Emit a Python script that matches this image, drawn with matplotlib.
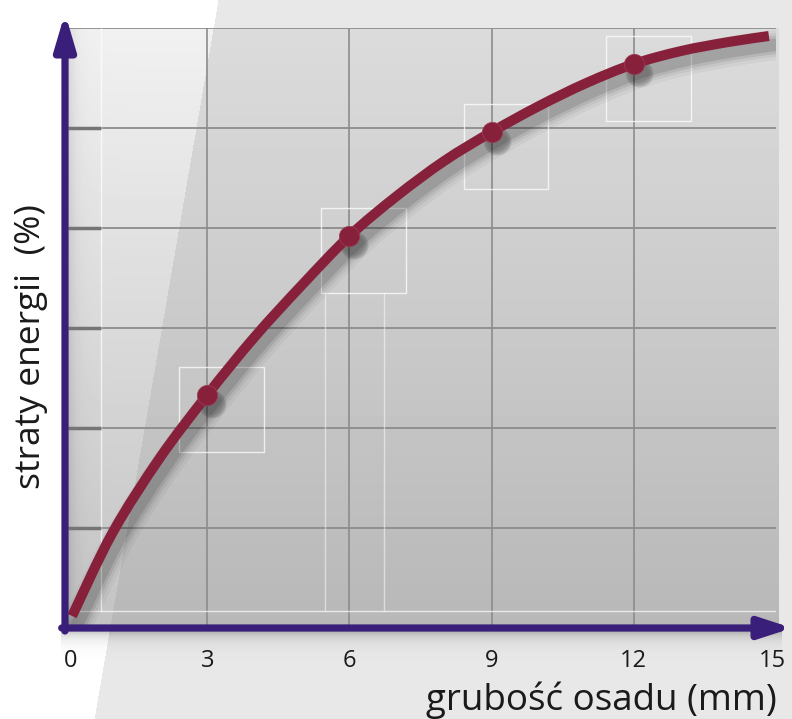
import numpy as np
import matplotlib
matplotlib.use('Agg')
import matplotlib.pyplot as plt
import matplotlib.transforms as mtransforms
from matplotlib.patches import Rectangle, PathPatch
from matplotlib.path import Path

plt.rcParams['font.family'] = ['Open Sans', 'DejaVu Sans']

# values (y in grid units, 6 = top line)
curve_x = [0.15, 1, 2, 3, 4, 5, 6, 7, 8, 9, 10, 11, 12, 13, 14, 14.85]
curve_y = [0.12, 0.95, 1.70, 2.33, 2.91, 3.43, 3.92, 4.32, 4.67, 4.96,
           5.22, 5.45, 5.64, 5.77, 5.86, 5.92]
point_x = [3, 6, 9, 12]
point_y = [2.33, 3.92, 4.96, 5.64]
x_ticks = [0, 3, 6, 9, 12, 15]
y_ticks = [1, 2, 3, 4, 5]
x_label = 'grubość osadu (mm)'
y_label = 'straty energii  (%)'

W, H = 792, 719
fig = plt.figure(figsize=(W / 100, H / 100), dpi=100)

# ---- background (pixel space) ----
yy, xx = np.mgrid[0:H, 0:W].astype(float)
left_side = xx < (218 - 0.1725 * yy)
img = np.where(left_side, 1.0, 0.91)
panel = (xx >= 68) & (xx <= 778) & (yy >= 28) & (yy <= 628)
base = 0.86 - (yy - 28) / 600 * 0.14
hl = np.where(left_side, 0.085 - (yy - 28) / 600 * 0.04, 0.0)
shade = base + hl - 0.10 * np.exp(-np.clip(xx - 68, 0, None) / 7)
img = np.where(panel, shade, img)
under = (yy > 630) & (xx > 60) & (xx < 782)
img = np.where(under, img - 0.22 * np.exp(-np.clip(yy - 631, 0, None) / 7), img)

bg = fig.add_axes([0, 0, 1, 1])
bg.imshow(img, cmap='gray', vmin=0, vmax=1, extent=(0, W, H, 0),
          aspect='auto', interpolation='bilinear')
bg.set_axis_off()

# ---- main axes: x=0 at px 65, x=15 at px 776; y=0 at px 628, y=6 at px 28 ----
ax = fig.add_axes([65 / W, (H - 628) / H, 711 / W, 600 / H])
ax.set_facecolor('none')
ax.set_xlim(0, 15)
ax.set_ylim(0, 6)
for s in ax.spines.values():
    s.set_visible(False)

grid_c = '#8c8c8c'
ax.hlines([1, 2, 3, 4, 5, 6], 0.063, 15.04, color=grid_c, lw=1.3, zorder=1)
ax.vlines([3, 6, 9, 12], 0, 6, color=grid_c, lw=1.2, zorder=1)
ax.vlines([0.76], 0.17, 6, color='white', lw=1.0, alpha=0.7, zorder=1)
ax.hlines([0.17], 0.063, 15.04, color='white', lw=1.0, alpha=0.7, zorder=1)
ax.vlines([15.04], 0, 6, color='#7f7f7f', lw=2.5, zorder=1)
ax.hlines(y_ticks, 0.063, 0.76, color='#757575', lw=2.5, zorder=1)

# light frames around points
for px, py in zip(point_x, point_y):
    ax.add_patch(Rectangle((px - 0.59, py - 0.57), 1.79, 0.85, fill=False,
                           ec='white', lw=1.0, alpha=0.75, zorder=1))
ax.vlines([5.49, 6.73], 0.17, 3.35, color='white', lw=1.0, alpha=0.5, zorder=1)

# smooth curve through the read points (Catmull-Rom as cubic Bezier)
pts = np.column_stack([curve_x, curve_y])
verts = [pts[0]]
codes = [Path.MOVETO]
for i in range(len(pts) - 1):
    p0 = pts[max(i - 1, 0)]
    p1, p2 = pts[i], pts[i + 1]
    p3 = pts[min(i + 2, len(pts) - 1)]
    verts += [p1 + (p2 - p0) / 6, p2 - (p3 - p1) / 6, p2]
    codes += [Path.CURVE4] * 3
curve_path = Path(verts, codes)

# soft shadow of the curve
for i, (lw, a) in enumerate([(22, 0.04), (17, 0.05), (13, 0.08), (9, 0.11)]):
    tr = mtransforms.offset_copy(ax.transData, fig=fig, x=5, y=-9, units='dots')
    ax.add_patch(PathPatch(curve_path, fill=False, ec='black', lw=lw, alpha=a,
                           transform=tr, capstyle='round', zorder=2))
    ax.plot(point_x, point_y, 'o', color='black', ms=14 + i * 2, alpha=a,
            mec='none', transform=tr, zorder=2)

red = '#87203a'
ax.add_patch(PathPatch(curve_path, fill=False, ec=red, lw=7.2,
                       capstyle='butt', zorder=3))
ax.plot(point_x, point_y, 'o', color=red, ms=14.5, mec='#9c3a55', mew=0.6,
        zorder=4)

# axes with arrows
purple = '#3a1f7a'
ax.annotate('', xy=(0, 6.15), xytext=(0, -0.03),
            arrowprops=dict(arrowstyle='-|>,head_length=2.1,head_width=0.62',
                            color=purple, lw=5.2, mutation_scale=10,
                            shrinkA=0, shrinkB=0),
            annotation_clip=False, zorder=5)
ax.annotate('', xy=(15.34, 0), xytext=(-0.07, 0),
            arrowprops=dict(arrowstyle='-|>,head_length=1.9,head_width=0.62',
                            color=purple, lw=5.2, mutation_scale=10,
                            shrinkA=0, shrinkB=0),
            annotation_clip=False, zorder=5)

ax.set_xticks(x_ticks)
ax.set_xticklabels([str(t) for t in x_ticks], fontsize=17, color='#1a1a1a')
ax.tick_params(axis='x', length=0, pad=15)
ax.set_yticks([])
# nudge first and last labels like in the original
fig.canvas.draw()
ticks = ax.xaxis.get_major_ticks()
for tick, dx in ((ticks[0], 6), (ticks[-1], -4)):
    lab = tick.label1
    lab.set_transform(lab.get_transform() +
                      mtransforms.ScaledTranslation(dx / 100, 0, fig.dpi_scale_trans))

fig.text(777 / W, (H - 710) / H, x_label, ha='right', va='baseline',
         fontsize=26.5, color='#1a1a1a')
fig.text(31 / W, (H - 347) / H, y_label, ha='center', va='center',
         rotation=90, fontsize=25.5, color='#1a1a1a')

fig.savefig('out.png', dpi=100)
